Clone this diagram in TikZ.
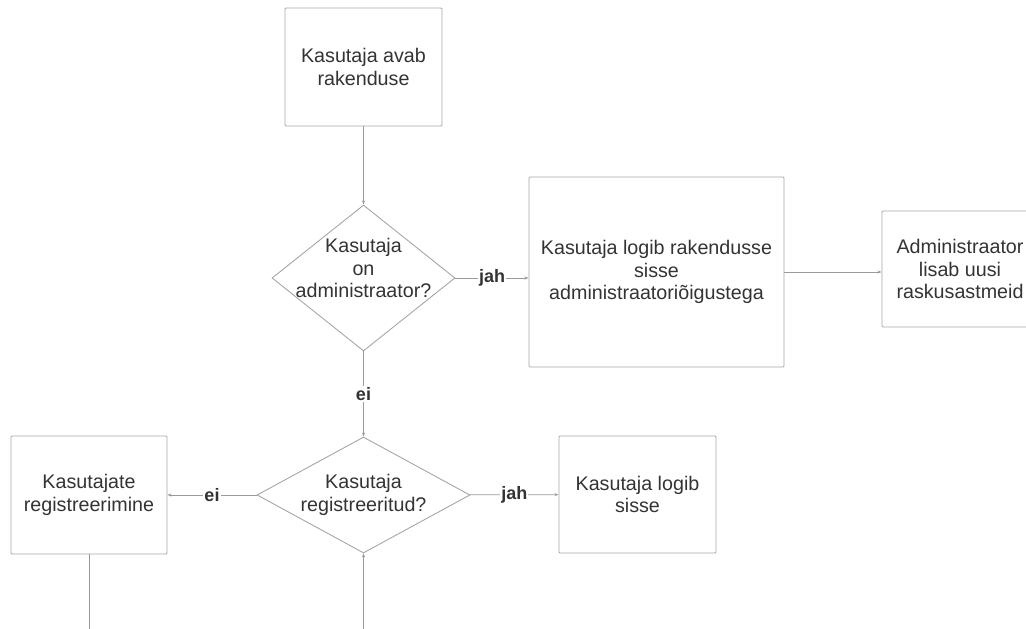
\documentclass[tikz,border=0pt]{standalone}
\usepackage{fontspec}
\setmainfont{Liberation Sans}
\usetikzlibrary{shapes.geometric,arrows.meta,positioning,calc}
\definecolor{linegray}{HTML}{9A9A9A}
\definecolor{boxgray}{HTML}{A6A6A6}
\definecolor{txtgray}{HTML}{333333}

\begin{document}
\begin{tikzpicture}[x=1pt,y=-1pt,
    box/.style={draw=boxgray,line width=0.9pt,rectangle,rounded corners=1pt,inner sep=0pt,
        align=center,text=txtgray,font=\fontsize{19.7}{22.8}\selectfont},
    decision/.style={draw=boxgray,line width=0.9pt,diamond,inner sep=0pt},
    dtext/.style={align=center,text=txtgray,font=\fontsize{19.7}{22.8}\selectfont},
    flow/.style={draw=linegray,line width=0.8pt,-{Stealth[length=4pt,width=3pt]}},
    plain/.style={draw=linegray,line width=0.8pt},
    lbl/.style={fill=white,inner sep=1pt,text=txtgray,font=\bfseries\fontsize{18}{21}\selectfont}]
    \useasboundingbox (0,0) rectangle (1026,629);
    \clip (0,0) rectangle (1026,629);

    % upper part
    \node[box,minimum width=157pt,minimum height=118pt] (start) at (363.5,67) {Kasutaja avab\\rakenduse};
    \node[decision,minimum width=183pt,minimum height=146pt,
        label={[dtext,yshift=10pt]center:Kasutaja\\on\\administraator?}] (isadmin) at (363.5,278) {};
    \node[box,minimum width=255pt,minimum height=190pt] (adminlogin) at (656.5,272) {Kasutaja logib rakendusse\\sisse\\administraatoriõigustega};
    \node[box,minimum width=156pt,minimum height=116pt] (addlevels) at (960,269) {Administraator\\lisab uusi\\raskusastmeid};

    % lower part
    \node[decision,minimum width=213pt,minimum height=116pt,
        label={[dtext]center:Kasutaja\\registreeritud?}] (isreg) at (363.5,495) {};
    \node[box,minimum width=156pt,minimum height=118pt] (register) at (89,495) {Kasutajate\\registreerimine};
    \node[box,minimum width=157pt,minimum height=117pt] (login) at (637.5,494.5) {Kasutaja logib\\sisse};

    \coordinate (regend) at (89,640);
    \coordinate (loopin) at (363.5,640);

    \draw[flow] (start) -- (isadmin);
    \draw[flow] (isadmin.east) -- node[lbl] {jah} (isadmin.east -| adminlogin.west);
    \draw[flow] (adminlogin.east) -- (adminlogin.east -| addlevels.west);
    \draw[flow] (isadmin) -- node[lbl] {ei} (isreg);
    \draw[flow] (isreg) -- node[lbl] {ei} (register);
    \draw[flow] (isreg) -- node[lbl] {jah} (login);
    \draw[plain] (register) -- (regend);
    \draw[flow] (loopin) -- (isreg);
\end{tikzpicture}
\end{document}
